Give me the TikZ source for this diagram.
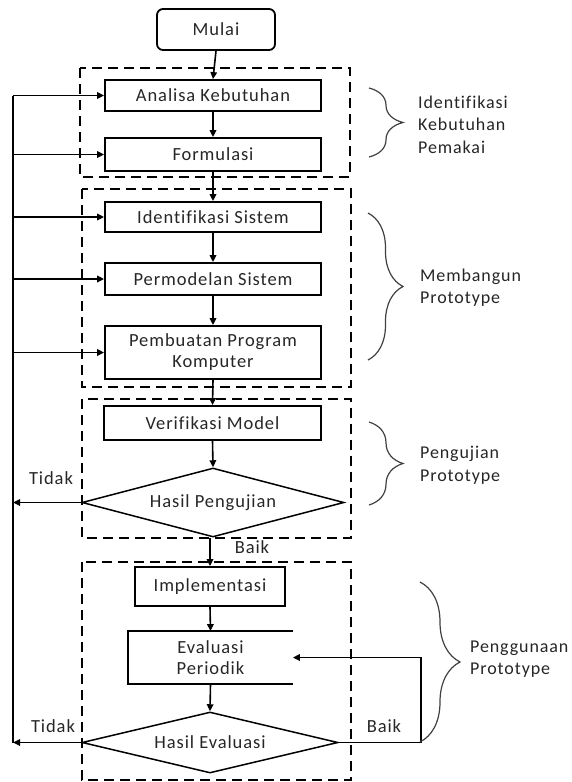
\documentclass[tikz,border=0pt]{standalone}
\usepackage{fontspec}
\setmainfont{Carlito}[LetterSpace=5, Ligatures={NoCommon}]
\usetikzlibrary{arrows.meta,shapes.geometric,decorations.pathreplacing}
\begin{document}
\begin{tikzpicture}[x=1pt,y=-1pt,
  txt/.style={font=\fontsize{18.5}{21}\selectfont, text=black!85},
  stepbox/.style={txt, draw, line width=1.8pt, inner sep=0pt, align=center},
  startbox/.style={stepbox, rounded corners=6pt},
  decision/.style={txt, shape=diamond, draw, line width=1.5pt, inner sep=0pt, aspect=3.8},
  groupbox/.style={draw, line width=2.5pt, dash pattern=on 10pt off 6pt},
  arr/.style={line width=1.6pt, -{Triangle[length=7pt,width=6.5pt]}},
  link/.style={line width=1.6pt},
  phasebrace/.style={decorate, line width=1.2pt, draw=black!75},
  phase/.style={txt, font=\fontsize{18}{22.5}\selectfont, align=left, anchor=west, inner sep=0pt},
  label/.style={txt, inner sep=0pt}]
\useasboundingbox (0,0) rectangle (572,782);

% phase frames
\draw[groupbox] (80,68) rectangle (350,177);
\draw[groupbox] (82,189) rectangle (351,387);
\draw[groupbox] (82,399) rectangle (351,538);
\draw[groupbox] (82,562) rectangle (351,780);

% flow steps
\node[startbox, minimum width=118pt, minimum height=41pt] (mulai) at (216,29.5) {Mulai};
\node[stepbox, minimum width=216pt, minimum height=31pt] (analisa) at (213,95.5) {Analisa Kebutuhan};
\node[stepbox, minimum width=216pt, minimum height=33pt] (formulasi) at (213,154.5) {Formulasi};
\node[stepbox, minimum width=216pt, minimum height=30pt] (idsis) at (213,217) {Identifikasi Sistem};
\node[stepbox, minimum width=216pt, minimum height=32pt] (model) at (213,279) {Permodelan Sistem};
\node[stepbox, minimum width=216pt, minimum height=53pt] (program) at (213,352.5) {Pembuatan Program\\Komputer};
\node[stepbox, minimum width=217pt, minimum height=34pt] (verif) at (212.5,423) {Verifikasi Model};
\node[decision, minimum width=262pt, minimum height=69pt] (uji) at (213,502.5) {Hasil Pengujian};
\node[stepbox, minimum width=150pt, minimum height=39pt] (impl) at (210,586.5) {Implementasi};
\node[stepbox, draw=none, minimum width=163pt, minimum height=51pt] (evalp) at (210.5,657.5) {Evaluasi\\Periodik};
\draw[link, line width=1.8pt] (evalp.north east) -- (evalp.north west) -- (evalp.south west) -- (evalp.south east);
\node[decision, minimum width=256pt, minimum height=61pt] (evald) at (210,742.5) {Hasil Evaluasi};

% main flow
\draw[arr] (mulai.south) -- (analisa.north);
\draw[arr] (analisa.south) -- (formulasi.north);
\draw[arr] (formulasi.south) -- (idsis.north);
\draw[arr] (idsis.south) -- (model.north);
\draw[arr] (model.south) -- (program.north);
\draw[arr] (program.south) -- (verif.north);
\draw[arr] (verif.south) -- (uji.north);
\draw[arr] (uji.south -| impl.north) -- (impl.north);
\draw[arr] (impl.south) -- (evalp.north);
\draw[arr] (evalp.south) -- (evald.north);

% feedback rail on the left
\coordinate (rail) at (13,0);
\draw[link] (analisa.west -| rail) -- (evald.west -| rail);
\foreach \n in {analisa,formulasi,idsis,model,program}
  \draw[arr] (\n.west -| rail) -- (\n.west);
\draw[arr] (uji.west) -- (uji.west -| rail);
\draw[arr] (evald.west) -- (evald.west -| rail);

% loop back to periodic evaluation
\coordinate (loop) at (421,0);
\draw[arr] (evald.east) -- (evald.east -| loop) -- (evalp.east -| loop) -- (evalp.east);

% branch labels
\node[label] (tidak1) at (51,478) {Tidak};
\node[label] (baik1) at (252,547) {Baik};
\node[label] (tidak2) at (53,726) {Tidak};
\node[label] (baik2) at (384,726) {Baik};

% phase braces and names
\draw[phasebrace, decoration={brace, amplitude=34pt}] (369,88) -- (369,157);
\node[phase] (ph1) at (418,124.5) {Identifikasi\\Kebutuhan\\Pemakai};
\draw[phasebrace, decoration={brace, amplitude=35pt}] (368,213) -- (368,360);
\node[phase] (ph2) at (420,287.5) {Membangun\\Prototype};
\draw[phasebrace, decoration={brace, amplitude=34pt}] (369,422) -- (369,505);
\node[phase] (ph3) at (420,465.5) {Pengujian\\Prototype};
\draw[phasebrace, decoration={brace, amplitude=40pt}] (420,582) -- (420,742);
\node[phase] (ph4) at (470,659) {Penggunaan\\Prototype};
\end{tikzpicture}
\end{document}
